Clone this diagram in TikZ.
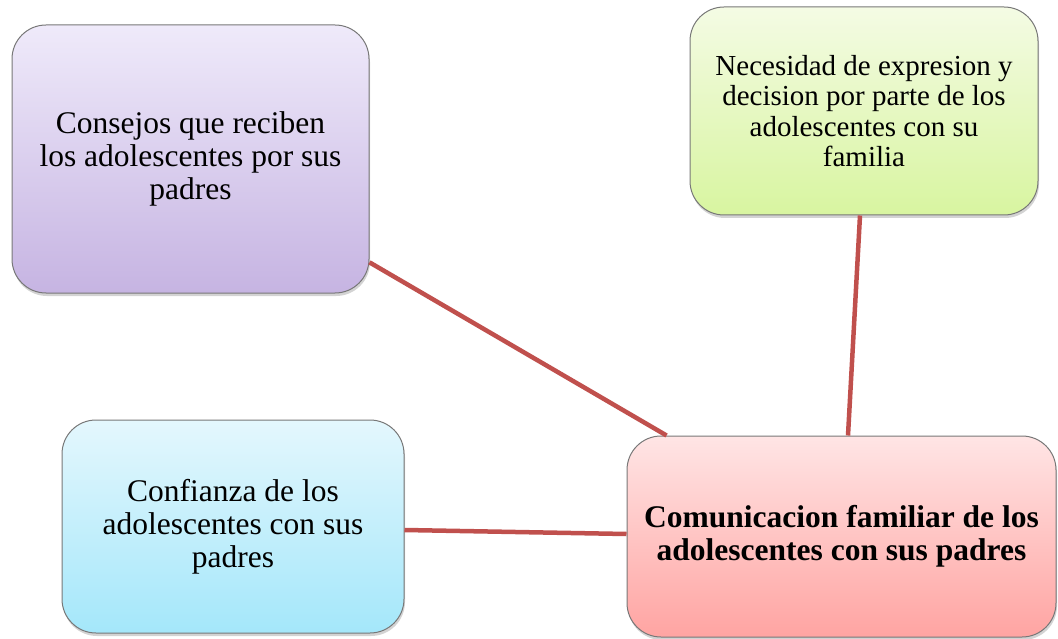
\documentclass[tikz,border=0pt]{standalone}
\usepackage{fontspec}
\setmainfont{Liberation Serif}
\usetikzlibrary{shadows}
\definecolor{purpTop}{RGB}{239,234,250}
\definecolor{purpBot}{RGB}{198,180,226}
\definecolor{grnTop}{RGB}{244,251,228}
\definecolor{grnBot}{RGB}{216,245,160}
\definecolor{cyTop}{RGB}{228,247,253}
\definecolor{cyBot}{RGB}{164,231,250}
\definecolor{redTop}{RGB}{255,229,229}
\definecolor{redBot}{RGB}{255,164,162}
\definecolor{linkRed}{RGB}{192,80,77}
\definecolor{boxEdge}{RGB}{120,120,120}
\tikzset{
  conceptbox/.style={draw=boxEdge, line width=1pt, rounded corners=34pt,
    shading=axis, shading angle=0, align=center, inner sep=0pt,
    font=\fontsize{31.5}{33}\selectfont,
    drop shadow={opacity=0.35, shadow xshift=1pt, shadow yshift=-3pt}},
  link/.style={draw=linkRed, line width=4.5pt}
}
\begin{document}
\begin{tikzpicture}[x=1pt,y=-1pt]
\useasboundingbox (0,0) rectangle (1058,639);
\node[conceptbox, top color=purpTop, bottom color=purpBot,
  minimum width=357pt, minimum height=268pt] (purple) at (190.5,159)
  {Consejos que reciben\\los adolescentes por sus\\padres};
\node[conceptbox, top color=grnTop, bottom color=grnBot,
  minimum width=348pt, minimum height=208pt,
  font=\fontsize{29}{30.5}\selectfont] (green) at (864,111)
  {Necesidad de expresion y\\decision por parte de los\\adolescentes con su\\familia};
\node[conceptbox, top color=cyTop, bottom color=cyBot,
  minimum width=342pt, minimum height=213pt] (cyan) at (233,526.5)
  {Confianza de los\\adolescentes con sus\\padres};
\node[conceptbox, top color=redTop, bottom color=redBot,
  minimum width=429pt, minimum height=201pt,
  font=\fontsize{31.5}{33}\selectfont\bfseries] (red) at (841.5,536.5)
  {Comunicacion familiar de los\\adolescentes con sus padres};
\draw[link] (purple.-30) -- (red.150);
\draw[link] ([xshift=-4pt]green.south) -- ([xshift=6.5pt]red.north);
\draw[link] ([yshift=-3.5pt]cyan.east) -- ([yshift=2.5pt]red.west);
\end{tikzpicture}
\end{document}
